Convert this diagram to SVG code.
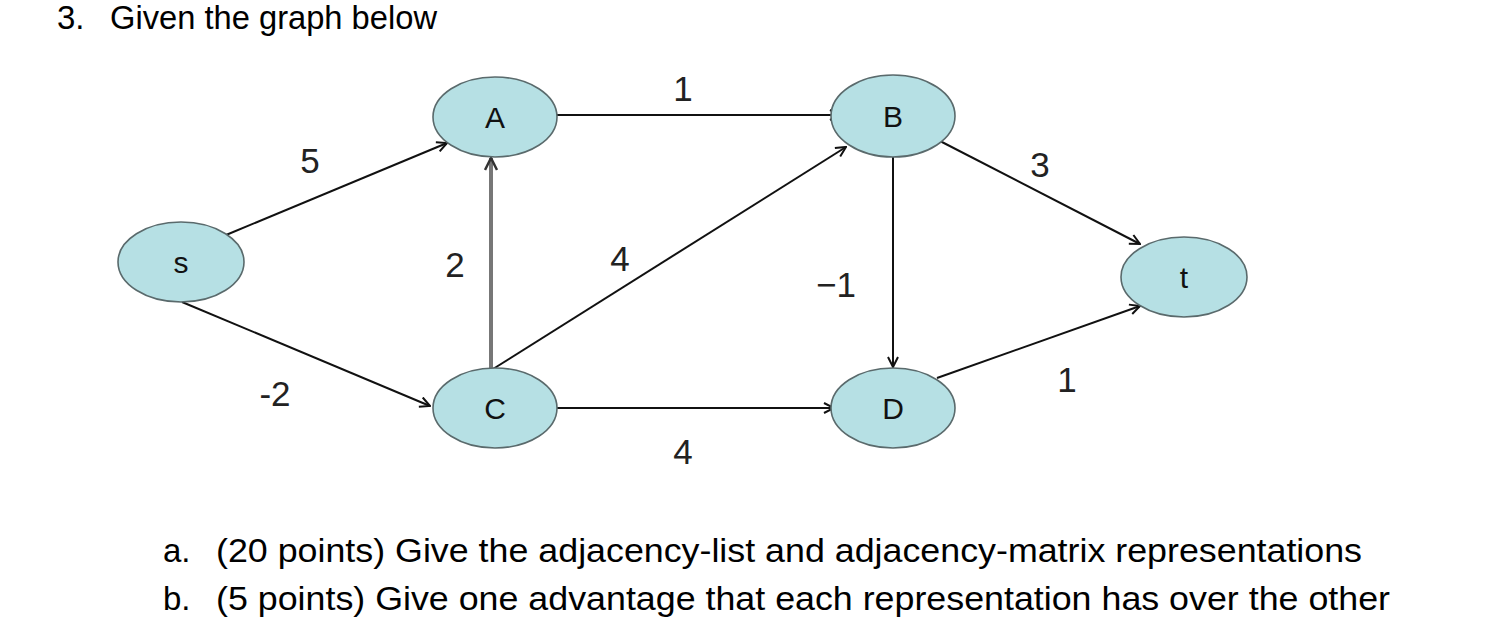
<svg xmlns="http://www.w3.org/2000/svg" width="1492" height="644" viewBox="0 0 1492 644">
<style>
.node{fill:#b6e0e4;stroke:#5a6a6c;stroke-width:1.6}
.nl{font-family:"Liberation Sans",Arial,sans-serif;font-size:30px;fill:#111;text-anchor:middle}
.el{font-family:"Liberation Sans",Arial,sans-serif;font-size:35px;fill:#222;text-anchor:middle}
.tx{font-family:"Liberation Sans",Arial,sans-serif;font-size:33px;fill:#000}
.e{stroke:#111;stroke-width:2;fill:none;marker-end:url(#ah)}
.g{stroke:#777;stroke-width:4;fill:none;marker-end:url(#ahg)}
</style>
<defs>
<marker id="ah" viewBox="0 0 12 12" refX="11" refY="6" markerWidth="12" markerHeight="12" markerUnits="userSpaceOnUse" orient="auto">
<path d="M1,1 L11,6 L1,11" fill="none" stroke="#111" stroke-width="2"/>
</marker>
<marker id="ahg" viewBox="0 0 14 14" refX="13" refY="7" markerWidth="14" markerHeight="14" markerUnits="userSpaceOnUse" orient="auto">
<path d="M1,1 L13,7 L1,13" fill="none" stroke="#333" stroke-width="2.5"/>
</marker>
</defs>
<rect width="1492" height="644" fill="#fff"/>
<text class="tx" x="57" y="29" font-size="29">3.</text>
<text class="tx" x="110" y="29" font-size="29" textLength="327" lengthAdjust="spacingAndGlyphs">Given the graph below</text>
<g id="connectors">
<line class="e" x1="226" y1="235" x2="447" y2="143"/>
<line class="e" x1="182" y1="302" x2="430" y2="406"/>
<line class="e" x1="557" y1="115" x2="840" y2="115"/>
<line class="g" x1="491" y1="368" x2="491" y2="158"/>
<line class="e" x1="493" y1="369" x2="846" y2="147"/>
<line class="e" x1="893" y1="157" x2="893" y2="367"/>
<line class="e" x1="940" y1="141" x2="1140" y2="244"/>
<line class="e" x1="937" y1="378" x2="1140" y2="306"/>
<line class="e" x1="557" y1="408" x2="834" y2="408"/>
</g>
<g id="edge-labels">
<text class="el" x="683" y="101">1</text>
<text class="el" x="310" y="173">5</text>
<text class="el" x="1040" y="177">3</text>
<text class="el" x="455" y="277">2</text>
<text class="el" x="620" y="271">4</text>
<text class="el" x="836" y="297">−1</text>
<text class="el" x="275" y="406">-2</text>
<text class="el" x="683" y="464">4</text>
<text class="el" x="1067" y="392">1</text>
</g>
<g id="node-s"><ellipse class="node" cx="181" cy="262" rx="63" ry="40"/><text class="nl" x="181" y="273">s</text></g>
<g id="node-A"><ellipse class="node" cx="495" cy="117" rx="62" ry="40"/><text class="nl" x="495" y="128">A</text></g>
<g id="node-B"><ellipse class="node" cx="893" cy="116" rx="62" ry="41"/><text class="nl" x="893" y="127">B</text></g>
<g id="node-t"><ellipse class="node" cx="1184" cy="277" rx="63" ry="40"/><text class="nl" x="1184" y="288">t</text></g>
<g id="node-C"><ellipse class="node" cx="495" cy="408" rx="62" ry="40"/><text class="nl" x="495" y="419">C</text></g>
<g id="node-D"><ellipse class="node" cx="893" cy="408" rx="62" ry="40"/><text class="nl" x="893" y="419">D</text></g>
<text class="tx" x="163" y="562">a.</text>
<text class="tx" x="216" y="562" textLength="1146" lengthAdjust="spacingAndGlyphs">(20 points) Give the adjacency-list and adjacency-matrix representations</text>
<text class="tx" x="163" y="610">b.</text>
<text class="tx" x="216" y="610" textLength="1174" lengthAdjust="spacingAndGlyphs">(5 points) Give one advantage that each representation has over the other</text>
</svg>
